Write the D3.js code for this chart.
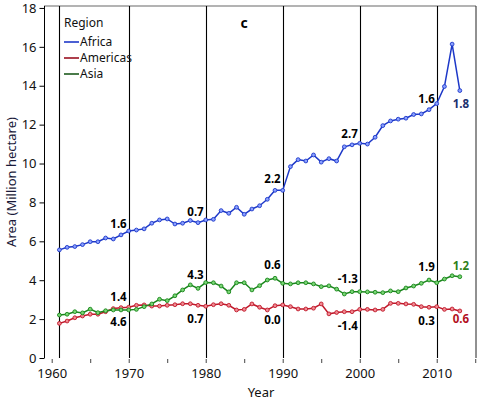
<!DOCTYPE html>
<html><head><meta charset="utf-8">
<script src="https://cdn.jsdelivr.net/npm/d3@7"></script>
<style>
html,body{margin:0;padding:0;background:#fff;}
svg{display:block;font-family:"Noto Sans","Open Sans",sans-serif;}
</style></head>
<body><svg id="c" width="480" height="402"></svg>
<script>
const years = d3.range(1961, 2014);
const africa = [5.56,5.69,5.73,5.83,5.98,5.98,6.17,6.12,6.33,6.53,
  6.58,6.64,6.93,7.10,7.15,6.89,6.93,7.07,6.96,7.10,
  7.13,7.58,7.44,7.75,7.39,7.66,7.83,8.16,8.62,8.62,
  9.84,10.20,10.13,10.44,10.07,10.25,10.13,10.86,10.96,11.04,
  11.00,11.35,11.95,12.19,12.28,12.33,12.52,12.55,12.77,13.08,
  13.96,16.14,13.75];
const americas = [1.78,1.90,2.07,2.16,2.25,2.25,2.38,2.54,2.59,2.61,
  2.71,2.73,2.67,2.67,2.71,2.74,2.79,2.79,2.71,2.66,
  2.74,2.79,2.71,2.47,2.50,2.78,2.61,2.47,2.69,2.73,
  2.64,2.52,2.52,2.56,2.78,2.27,2.34,2.38,2.38,2.50,
  2.50,2.47,2.50,2.81,2.81,2.78,2.76,2.64,2.61,2.64,
  2.50,2.52,2.42];
const asia = [2.21,2.25,2.38,2.32,2.51,2.33,2.43,2.47,2.47,2.47,
  2.50,2.64,2.78,3.02,2.95,3.20,3.50,3.76,3.58,3.88,
  3.87,3.70,3.40,3.87,3.87,3.50,3.72,4.01,4.10,3.84,
  3.81,3.87,3.87,3.81,3.67,3.71,3.54,3.29,3.41,3.41,
  3.40,3.38,3.36,3.45,3.41,3.60,3.70,3.84,4.01,3.87,
  4.06,4.23,4.18];
const seriesNames = ["Africa","Americas","Asia"];
const seriesColors = ["#1d38c8","#c0182a","#1a861c"];
const markerFills = ["#8aa0ff","#f08a92","#7ad675"];
const legendColors = ["#1d38c8","#9a1020","#1d5a1d"];
const labelYears = [1969,1979,1989,1999,2009,2013];
const africaLabels = ["1.6","0.7","2.2","2.7","1.6","1.8"];
const americasLabels = ["4.6","0.7","0.0","-1.4","0.3","0.6"];
const asiaLabels = ["1.4","4.3","0.6","-1.3","1.9","1.2"];
const lastLabelColors = ["#1a2f6e","#b3101e","#2f7f1a"];
const periodLines = [1961,1970,1980,1990,2000,2010];
const xTicks = [1960,1970,1980,1990,2000,2010];
const xMinorTicks = d3.range(1960, 2016, 5);
const yTicks = [0,2,4,6,8,10,12,14,16,18];

const svg = d3.select("#c");
const x = d3.scaleLinear().domain([1959, 2015.1]).range([44, 476]);
const y = d3.scaleLinear().domain([0, 18.1]).range([358, 6]);

// frame
svg.append("line").attr("x1",44).attr("x2",476).attr("y1",y(18.1)).attr("y2",y(18.1))
  .attr("stroke","#9a9a9a").attr("stroke-width",1.5);
svg.append("line").attr("x1",476).attr("x2",476).attr("y1",y(18.1)).attr("y2",y(0))
  .attr("stroke","#222").attr("stroke-width",1);

// period lines
svg.selectAll(".pl").data(periodLines).join("line")
  .attr("x1",d=>Math.round(x(d))+0.5).attr("x2",d=>Math.round(x(d))+0.5)
  .attr("y1",y(18.1)).attr("y2",y(0))
  .attr("stroke","#000").attr("stroke-width",1.1);

// y axis
const yAxis = svg.append("g").attr("transform","translate(44.5,0)")
  .call(d3.axisLeft(y).tickValues(yTicks).tickSize(5).tickPadding(3).tickFormat(d3.format("d")));
yAxis.select(".domain").attr("stroke","#000").attr("d",`M0,${y(18.1)}V${y(0)}`);
yAxis.selectAll("text").attr("font-size",13).attr("fill","#111").attr("font-family","Noto Sans");

// x axis (ticks only)
const xAxis = svg.append("g").attr("transform",`translate(0,${y(0)+1})`)
  .call(d3.axisBottom(x).tickValues(xMinorTicks).tickSize(4).tickFormat(""));
xAxis.select(".domain").remove();
xAxis.selectAll("line").attr("stroke","#444");
const xLab = svg.append("g").attr("transform",`translate(0,${y(0)+1})`)
  .call(d3.axisBottom(x).tickValues(xTicks).tickSize(0).tickPadding(10).tickFormat(d3.format("d")));
xLab.select(".domain").remove();
xLab.selectAll("text").attr("font-size",13).attr("fill","#111").attr("font-family","Noto Sans");

// titles
svg.append("text").attr("x",261).attr("y",397).attr("text-anchor","middle")
  .attr("font-size",13).attr("fill","#111").text("Year");
svg.append("text").attr("transform","translate(16,182) rotate(-90)").attr("text-anchor","middle")
  .attr("font-size",13).attr("fill","#1a1a3a").text("Area (Million hectare)");
svg.append("text").attr("x",244).attr("y",28).attr("text-anchor","middle")
  .attr("font-size",14).attr("font-weight","bold").attr("fill","#000").text("c");

// lines
const allSeries = [africa, americas, asia];
const line = d3.line().x((d,i)=>x(years[i])).y(d=>y(d));
allSeries.forEach((s,k)=>{
  svg.append("path").datum(s).attr("d",line).attr("fill","none")
    .attr("stroke",seriesColors[k]).attr("stroke-width",1.5);
  svg.append("g").selectAll("circle").data(s).join("circle")
    .attr("cx",(d,i)=>x(years[i])).attr("cy",d=>y(d)).attr("r",1.9)
    .attr("fill",markerFills[k]).attr("stroke",seriesColors[k]).attr("stroke-width",0.9);
});

// annotations
const labelSets = [africaLabels, americasLabels, asiaLabels];
const dyOff = [-11, 14, -13];
const lastDyOff = [13, 8, -11];
labelSets.forEach((labs,k)=>{
  labs.forEach((t,j)=>{
    const yr = labelYears[j];
    const v = allSeries[k][years.indexOf(yr)];
    const last = j === labs.length-1;
    svg.append("text")
      .attr("x", last ? x(yr)+1 : x(yr+1)-2)
      .attr("y", y(v) + (last ? lastDyOff[k] : dyOff[k]))
      .attr("dy","0.35em")
      .attr("text-anchor", last ? "middle" : "end")
      .attr("font-size",11.5).attr("font-weight","bold")
      .attr("fill", last ? lastLabelColors[k] : "#000")
      .text(t);
  });
});

// legend
const lg = svg.append("g").attr("transform","translate(64,0)");
lg.append("text").attr("x",0).attr("y",27).attr("font-size",12).attr("fill","#111").text("Region");
seriesNames.forEach((n,k)=>{
  const yy = 42 + k*16;
  lg.append("line").attr("x1",0).attr("x2",15).attr("y1",yy).attr("y2",yy)
    .attr("stroke",legendColors[k]).attr("stroke-width",1.6);
  lg.append("text").attr("x",16).attr("y",yy+4).attr("font-size",12).attr("fill","#111").text(n);
});
</script></body></html>
